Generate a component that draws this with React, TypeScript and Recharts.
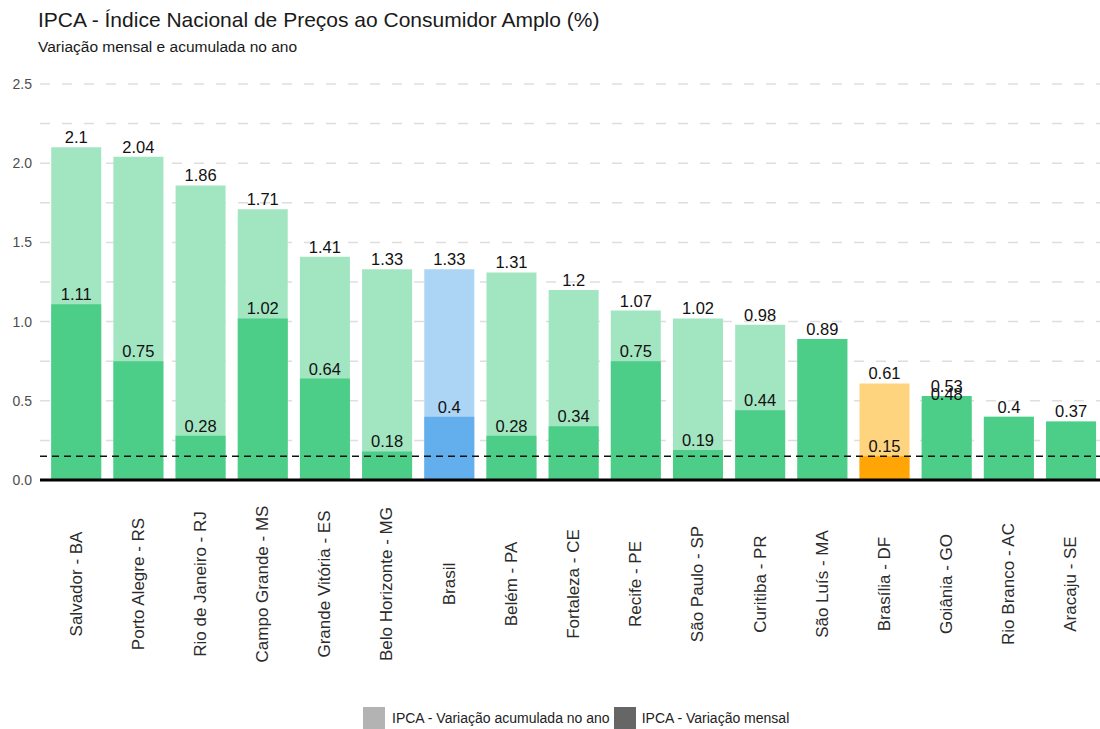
import { BarChart, Bar, XAxis, YAxis, CartesianGrid, ReferenceLine, LabelList, Cell } from 'recharts'

const CATEGORIES = [
  'Salvador - BA',
  'Porto Alegre - RS',
  'Rio de Janeiro - RJ',
  'Campo Grande - MS',
  'Grande Vitória - ES',
  'Belo Horizonte - MG',
  'Brasil',
  'Belém - PA',
  'Fortaleza - CE',
  'Recife - PE',
  'São Paulo - SP',
  'Curitiba - PR',
  'São Luís - MA',
  'Brasília - DF',
  'Goiânia - GO',
  'Rio Branco - AC',
  'Aracaju - SE',
]

// accumulated in the year (light bars)
const ACUMULADO = [2.1, 2.04, 1.86, 1.71, 1.41, 1.33, 1.33, 1.31, 1.2, 1.07, 1.02, 0.98, 0.89, 0.61, 0.48, 0.4, 0.37]
// monthly change (dark bars)
const MENSAL = [1.11, 0.75, 0.28, 1.02, 0.64, 0.18, 0.4, 0.28, 0.34, 0.75, 0.19, 0.44, 0.89, 0.15, 0.53, 0.4, 0.37]

const Y_TICKS = [0, 0.5, 1, 1.5, 2, 2.5]
const GRID_VALUES = [0.25, 0.5, 0.75, 1, 1.25, 1.5, 1.75, 2, 2.25, 2.5]
const REF_VALUE = 0.15

const COLORS: Record<string, [string, string]> = {
  default: ['#a2e6c1', '#4ccd88'],
  Brasil: ['#acd4f5', '#63aeed'],
  'Brasília - DF': ['#ffd47f', '#ffa505'],
}

const FONT = '"Liberation Sans", Arial, sans-serif'

const data = CATEGORIES.map((name, i) => ({
  name,
  acumulado: ACUMULADO[i],
  mensal: MENSAL[i],
  mensalLabel: MENSAL[i] === ACUMULADO[i] ? '' : MENSAL[i],
}))

const colorFor = (name: string) => COLORS[name] || COLORS.default

const XTick = (props: any) => {
  const { x, y, payload } = props
  return (
    <text
      transform={`translate(${x},${y + 104}) rotate(-90)`}
      textAnchor="middle"
      dominantBaseline="central"
      fontSize={17}
      fill="#2b2b2b"
      fontFamily={FONT}
    >
      {payload.value}
    </text>
  )
}

export default function App() {
  return (
    <div style={{ position: 'absolute', left: 0, top: 0, width: 1100, height: 729, overflow: 'hidden', background: '#fff', fontFamily: FONT }}>
      <div style={{ position: 'absolute', left: 38, top: 8, fontSize: 21, color: '#1a1a1a', whiteSpace: 'nowrap' }}>
        IPCA - Índice Nacional de Preços ao Consumidor Amplo (%)
      </div>
      <div style={{ position: 'absolute', left: 38, top: 38, fontSize: 15.5, color: '#1a1a1a', whiteSpace: 'nowrap' }}>
        Variação mensal e acumulada no ano
      </div>
      <BarChart
        width={1102}
        height={729}
        data={data}
        margin={{ top: 84, right: 0, bottom: 0, left: 0 }}
        barCategoryGap="10%"
      >
        <CartesianGrid
          xAxisId="a"
          vertical={false}
          horizontalValues={GRID_VALUES}
          stroke="#dedede"
          strokeWidth={1.5}
          strokeDasharray="10 12"
        />
        <XAxis
          xAxisId="a"
          dataKey="name"
          interval={0}
          height={249}
          tickSize={0}
          tickMargin={0}
          axisLine={false}
          tickLine={false}
          padding={{ left: 5, right: 0 }}
          tick={<XTick />}
        />
        <XAxis xAxisId="b" dataKey="name" hide padding={{ left: 5, right: 0 }} />
        <YAxis
          domain={[0, 2.5]}
          ticks={Y_TICKS}
          width={40}
          tickSize={0}
          tickMargin={8}
          axisLine={false}
          tickLine={false}
          tick={{ fontSize: 14, fill: '#4d4d4d', fontFamily: FONT }}
          tickFormatter={(v: number) => v.toFixed(1)}
        />
        <Bar xAxisId="a" dataKey="acumulado" isAnimationActive={false}>
          {data.map((d) => (
            <Cell key={d.name} fill={colorFor(d.name)[0]} />
          ))}
          <LabelList dataKey="acumulado" position="top" offset={4} fill="#111" fontSize={16.5} fontFamily={FONT} />
        </Bar>
        <Bar xAxisId="b" dataKey="mensal" isAnimationActive={false}>
          {data.map((d) => (
            <Cell key={d.name} fill={colorFor(d.name)[1]} />
          ))}
          <LabelList dataKey="mensalLabel" position="top" offset={4} fill="#111" fontSize={16.5} fontFamily={FONT} />
        </Bar>
        <ReferenceLine xAxisId="a" y={REF_VALUE} stroke="#111" strokeWidth={1.5} strokeDasharray="7 5" />
        <ReferenceLine xAxisId="a" y={0} stroke="#000" strokeWidth={3} />
      </BarChart>
      <div style={{ position: 'absolute', left: 363, top: 707, display: 'flex', alignItems: 'center', fontSize: 14, color: '#222', whiteSpace: 'nowrap' }}>
        <span style={{ width: 22, height: 22, background: '#b3b3b3', display: 'inline-block', marginRight: 7 }} />
        <span>IPCA - Variação acumulada no ano</span>
        <span style={{ width: 22, height: 22, background: '#666', display: 'inline-block', marginLeft: 4, marginRight: 6 }} />
        <span>IPCA - Variação mensal</span>
      </div>
    </div>
  )
}
